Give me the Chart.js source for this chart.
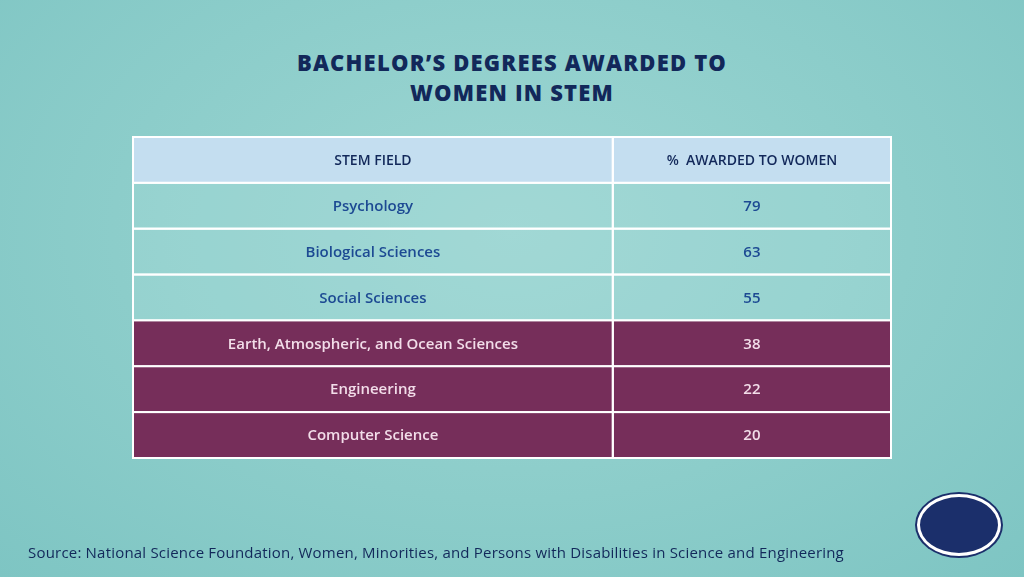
<!DOCTYPE html>
<html><head><meta charset="utf-8">
<script src="https://cdn.jsdelivr.net/npm/chart.js@4.4.0/dist/chart.umd.min.js"></script>
<style>
html,body{margin:0;padding:0;}
body{width:1024px;height:577px;overflow:hidden;position:relative;
 background:radial-gradient(ellipse at 50% 40%,#9dd6d3 0%,#8ccdca 55%,#7ec5c3 100%);font-family:'Open Sans',sans-serif;}
#title{position:absolute;top:47px;left:0;width:1024px;text-align:center;color:#12285a;font-weight:800;font-size:22px;line-height:30px;letter-spacing:1.2px;font-family:'Open Sans',sans-serif;}
#source{position:absolute;left:28px;top:542px;color:#12285a;font-size:15px;font-family:'Open Sans',sans-serif;letter-spacing:0.2px;}
#logo{position:absolute;left:917px;top:494px;width:78px;height:56px;border-radius:50%;background:#1b2f6b;border:3px solid #fff;box-shadow:0 0 0 2px #1b2f6b;}
canvas{position:absolute;left:0;top:0;}
</style></head><body>
<div id="title">BACHELOR’S DEGREES AWARDED TO<br>WOMEN IN STEM</div>
<canvas id="c" width="1024" height="577"></canvas>
<div id="logo"></div>
<div id="source">Source: National Science Foundation, Women, Minorities, and Persons with Disabilities in Science and Engineering</div>
<script>
const headers = ["STEM FIELD", "%  AWARDED TO WOMEN"];
const fields = ["Psychology", "Biological Sciences", "Social Sciences", "Earth, Atmospheric, and Ocean Sciences", "Engineering", "Computer Science"];
const percents = [79, 63, 55, 38, 22, 20];
const rowGroup = ["top", "top", "top", "bottom", "bottom", "bottom"];

const rowLabels = ["header"].concat(fields);

const tablePlugin = {
  id: 'table',
  afterDraw(chart) {
    const ctx = chart.ctx, x = chart.scales.x, y = chart.scales.y;
    const x0 = x.getPixelForValue(0), x1 = x.getPixelForValue(63.3), x2 = x.getPixelForValue(100);
    const band = (y.bottom - y.top) / rowLabels.length;
    ctx.save();
    rowLabels.forEach((lab, i) => {
      const cy = y.getPixelForValue(i), top = cy - band / 2;
      let fill, color, texts;
      if (i === 0) { fill = '#c4def0'; color = '#12285a'; texts = headers; }
      else if (rowGroup[i - 1] === 'top') { fill = 'rgba(170,220,217,0.35)'; color = '#1d4a93'; texts = [fields[i - 1], String(percents[i - 1])]; }
      else { fill = '#762e5a'; color = '#f2dde9'; texts = [fields[i - 1], String(percents[i - 1])]; }
      ctx.fillStyle = fill;
      ctx.fillRect(x0, top, x2 - x0, band);
      ctx.strokeStyle = '#ffffff'; ctx.lineWidth = 2;
      ctx.strokeRect(x0, top, x1 - x0, band);
      ctx.strokeRect(x1, top, x2 - x1, band);
      ctx.fillStyle = color;
      ctx.font = (i === 0 ? '600 14px ' : '600 15px ') + '"Open Sans", sans-serif';
      ctx.textAlign = 'center'; ctx.textBaseline = 'middle';
      ctx.fillText(texts[0], (x0 + x1) / 2, cy + 1);
      ctx.fillText(texts[1], (x1 + x2) / 2, cy + 1);
    });
    ctx.restore();
  }
};

new Chart(document.getElementById('c'), {
  type: 'bar',
  data: { labels: rowLabels, datasets: [{ data: rowLabels.map(() => 0), backgroundColor: 'transparent' }] },
  options: {
    indexAxis: 'y', responsive: false, animation: false,
    layout: { padding: { left: 133, right: 133, top: 137, bottom: 119 } },
    plugins: { legend: { display: false }, tooltip: { enabled: false } },
    scales: {
      x: { display: false, min: 0, max: 100 },
      y: { display: false }
    }
  },
  plugins: [tablePlugin]
});
</script>
</body></html>
